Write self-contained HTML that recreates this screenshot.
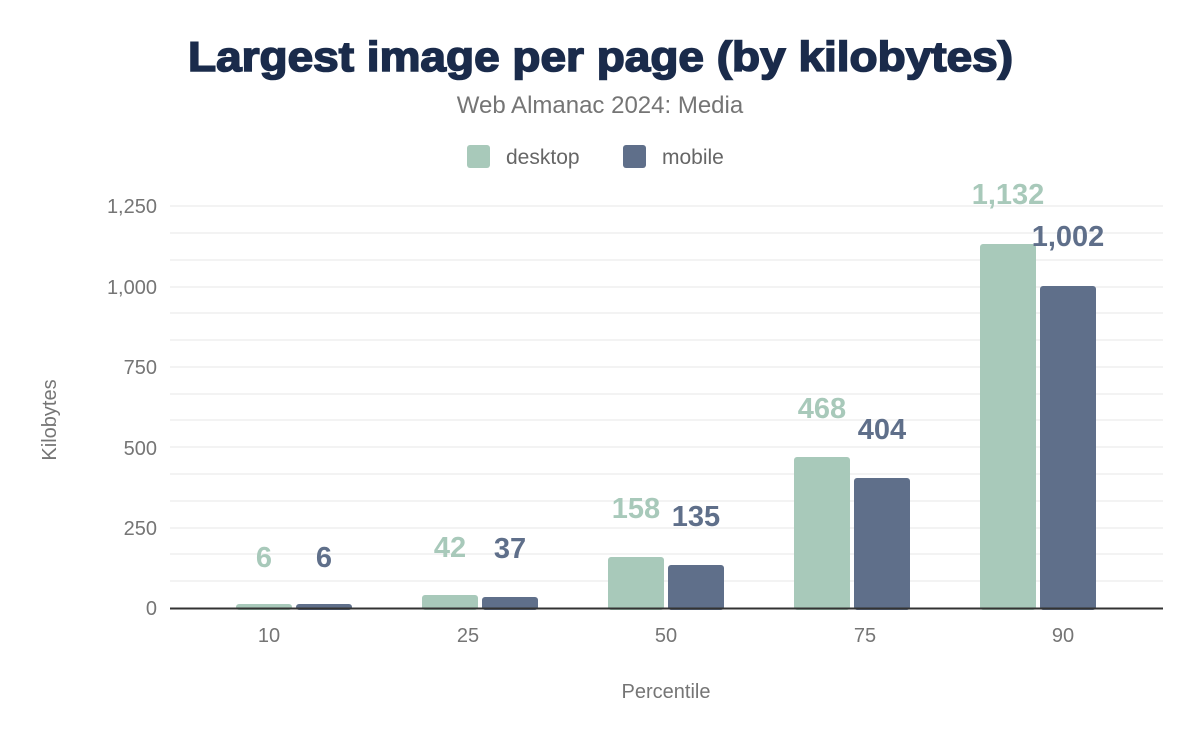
<!DOCTYPE html>
<html><head><style>body{margin:0;background:#fff}svg{display:block}</style></head><body>
<svg width="1200" height="742" xmlns="http://www.w3.org/2000/svg" font-family="Liberation Sans, Arial, sans-serif">
<rect width="1200" height="742" fill="#fff"/>
<text x="188" y="71" textLength="825" lengthAdjust="spacingAndGlyphs" font-size="42" font-weight="900" fill="#1a2b4b" stroke="#1a2b4b" stroke-width="1.6">Largest image per page (by kilobytes)</text>
<text x="600" y="113" text-anchor="middle" font-size="24" fill="#757575">Web Almanac 2024: Media</text>
<rect x="467" y="145" width="23" height="23" rx="3" fill="#a8c9ba"/>
<text x="506" y="164" font-size="21" fill="#666">desktop</text>
<rect x="623" y="145" width="23" height="23" rx="3" fill="#5f6f8a"/>
<text x="662" y="164" font-size="21" fill="#666">mobile</text>
<g stroke="#efefef" stroke-width="1.5">
<line x1="170" x2="1163" y1="206" y2="206"/><line x1="170" x2="1163" y1="233" y2="233"/><line x1="170" x2="1163" y1="260" y2="260"/>
<line x1="170" x2="1163" y1="287" y2="287"/><line x1="170" x2="1163" y1="313" y2="313"/><line x1="170" x2="1163" y1="340" y2="340"/>
<line x1="170" x2="1163" y1="367" y2="367"/><line x1="170" x2="1163" y1="394" y2="394"/><line x1="170" x2="1163" y1="420" y2="420"/>
<line x1="170" x2="1163" y1="447" y2="447"/><line x1="170" x2="1163" y1="474" y2="474"/><line x1="170" x2="1163" y1="501" y2="501"/>
<line x1="170" x2="1163" y1="528" y2="528"/><line x1="170" x2="1163" y1="554" y2="554"/><line x1="170" x2="1163" y1="581" y2="581"/>
</g>
<g font-size="20" fill="#757575" text-anchor="end">
<text x="157" y="213">1,250</text><text x="157" y="294">1,000</text><text x="157" y="374">750</text>
<text x="157" y="455">500</text><text x="157" y="535">250</text><text x="157" y="615">0</text>
</g>
<text transform="translate(56,420) rotate(-90)" text-anchor="middle" font-size="20" fill="#757575">Kilobytes</text>
<g fill="#a8c9ba">
<rect x="236" y="604" width="56" height="6" rx="3"/>
<rect x="422" y="595" width="56" height="15" rx="3"/>
<rect x="608" y="557" width="56" height="53" rx="3"/>
<rect x="794" y="457" width="56" height="153" rx="3"/>
<rect x="980" y="244" width="56" height="366" rx="3"/>
</g>
<g fill="#5f6f8a">
<rect x="296" y="604" width="56" height="6" rx="3"/>
<rect x="482" y="597" width="56" height="13" rx="3"/>
<rect x="668" y="565" width="56" height="45" rx="3"/>
<rect x="854" y="478" width="56" height="132" rx="3"/>
<rect x="1040" y="286" width="56" height="324" rx="3"/>
</g>
<line x1="170" x2="1163" y1="608.5" y2="608.5" stroke="#333" stroke-width="2"/>
<g font-size="29" font-weight="bold" text-anchor="middle" fill="#a8c9ba">
<text x="264" y="567">6</text><text x="450" y="557">42</text><text x="636" y="518">158</text>
<text x="822" y="418">468</text><text x="1008" y="204">1,132</text>
</g>
<g font-size="29" font-weight="bold" text-anchor="middle" fill="#5f6f8a">
<text x="324" y="567">6</text><text x="510" y="558">37</text><text x="696" y="526">135</text>
<text x="882" y="439">404</text><text x="1068" y="246">1,002</text>
</g>
<g font-size="20" fill="#757575" text-anchor="middle">
<text x="269" y="642">10</text><text x="468" y="642">25</text><text x="666" y="642">50</text>
<text x="865" y="642">75</text><text x="1063" y="642">90</text>
</g>
<text x="666" y="698" text-anchor="middle" font-size="20" fill="#757575">Percentile</text>
</svg>
</body></html>
